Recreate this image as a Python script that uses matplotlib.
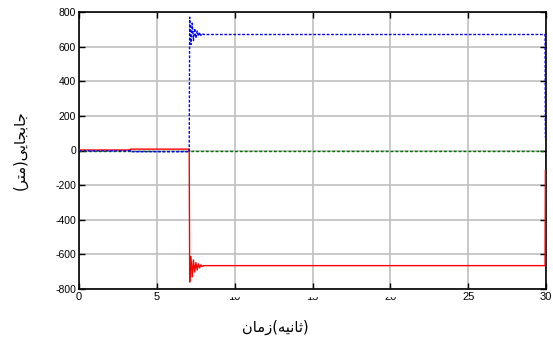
import matplotlib
matplotlib.use("Agg")
import matplotlib.pyplot as plt
from matplotlib.patches import Rectangle

# time samples (s)
t = [0, 3.3, 3.31, 7.08, 7.11, 7.19, 7.27, 7.35, 7.43, 7.51, 7.59, 7.67,
     7.75, 7.83, 7.91, 8.0, 8.2, 29.94, 29.96]
# blue (dashed) displacement
blue = [-2, -2, -7, -7, 770, 612, 735, 635, 705, 650, 690, 660,
        682, 665, 676, 670, 670, 670, 75]
# red (solid) displacement
red = [3, 3, 8, 8, -760, -612, -730, -632, -702, -648, -690, -655,
       -678, -660, -670, -665, -665, -665, -115]
# green (dashed) displacement
t_green = [0, 30]
green = [0, 0]

xticks = [0, 5, 10, 15, 20, 25, 30]
yticks = [-800, -600, -400, -200, 0, 200, 400, 600, 800]

# Persian labels in visual (pre-shaped) order
xlabel = "\uFEE5\uFE8E\uFEE3\uFEAF" + "(" + "\uFEEA\uFEF4\uFEE7\uFE8E\uFE9B" + ")"
ylabel = "(" + "\uFEAE\uFE98\uFEE3" + ")" + "\uFEF0\uFEF3\uFE8E\uFEA0\uFE91\uFE8E\uFE9F"

W, H = 553, 345
fig = plt.figure(figsize=(W / 100, H / 100), dpi=100)
left, right, top, bottom = 79, 546, 12, 289
ax = fig.add_axes([left / W, 1 - bottom / H, (right - left) / W, (bottom - top) / H])

ax.plot(t_green, green, color="#006f00", lw=1.0, ls=(0, (2, 1.5)), zorder=2)
ax.plot(t, red, color="#ff0000", lw=1.0, zorder=3)
ax.plot(t, blue, color="#0000ff", lw=1.0, ls=(0, (2, 1.2)), zorder=4)

ax.set_xlim(0, 30)
ax.set_ylim(-800, 800)
ax.set_xticks(xticks)
ax.set_yticks(yticks)
ax.set_xticklabels([str(v) for v in xticks], family="Liberation Sans", fontsize=8)
ax.set_yticklabels([str(v) for v in yticks], family="Liberation Sans", fontsize=7.5)
ax.grid(True, color="#c0c0c0", lw=1.2, ls="-")
ax.set_axisbelow(True)
ax.tick_params(direction="in", length=4, width=1, top=True, right=True,
               pad=2, colors="black")
for s in ax.spines.values():
    s.set_linewidth(1.2)
    s.set_color("black")

fig.text(275 / W, 1 - 327 / H, xlabel, family="DejaVu Sans", fontsize=10.5,
         ha="center", va="center")
fig.text(20 / W, 1 - 150 / H, ylabel, family="DejaVu Sans", fontsize=10.5,
         ha="center", va="center", rotation=90)

# mimic the partial clipping of some tick labels in the reference
fig.patches.append(Rectangle((225 / W, 1 - 296 / H), 180 / W, 5 / H,
                             transform=fig.transFigure, color="white", zorder=10))

fig.savefig("out.png", dpi=100)
